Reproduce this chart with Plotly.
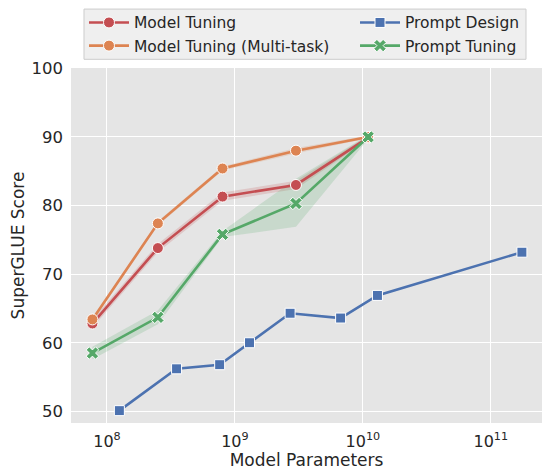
import plotly.graph_objects as go

# ---------------- data ----------------
t5_params = [7.7e7, 2.5e8, 8.0e8, 3.0e9, 1.1e10]
model_tuning = [62.8, 73.8, 81.3, 83.0, 89.9]
model_tuning_lo = [62.2, 73.2, 80.7, 82.4, 89.6]
model_tuning_hi = [63.4, 74.4, 81.9, 83.6, 90.2]

model_tuning_mt = [63.4, 77.4, 85.4, 88.0, 90.0]
model_tuning_mt_lo = [63.1, 77.1, 85.1, 87.6, 89.8]
model_tuning_mt_hi = [63.7, 77.7, 85.7, 88.4, 90.2]

prompt_tuning = [58.5, 63.7, 75.8, 80.3, 90.0]
prompt_tuning_lo = [57.6, 62.7, 75.4, 76.9, 89.7]
prompt_tuning_hi = [59.4, 64.7, 76.3, 83.9, 90.3]

gpt3_params = [1.25e8, 3.5e8, 7.6e8, 1.3e9, 2.7e9, 6.7e9, 1.3e10, 1.75e11]
prompt_design = [50.1, 56.2, 56.8, 60.0, 64.3, 63.6, 66.9, 73.2]

x_tickvals = [1e8, 1e9, 1e10, 1e11]
x_ticktext = ["10<sup>8</sup>", "10<sup>9</sup>", "10<sup>10</sup>", "10<sup>11</sup>"]
y_tickvals = [50, 60, 70, 80, 90, 100]

RED = "#C44E52"
ORANGE = "#DD8452"
BLUE = "#4C72B0"
GREEN = "#55A868"


def band_color(hexc, a):
    h = hexc.lstrip("#")
    r, g, b = int(h[0:2], 16), int(h[2:4], 16), int(h[4:6], 16)
    return f"rgba({r},{g},{b},{a})"


fig = go.Figure()


def add_band(x, lo, hi, color):
    fig.add_trace(go.Scatter(
        x=list(x) + list(x)[::-1], y=list(hi) + list(lo)[::-1],
        fill="toself", fillcolor=band_color(color, 0.2),
        line=dict(width=0), mode="lines", hoverinfo="skip",
        showlegend=False))


add_band(t5_params, model_tuning_lo, model_tuning_hi, RED)
add_band(t5_params, model_tuning_mt_lo, model_tuning_mt_hi, ORANGE)
add_band(t5_params, prompt_tuning_lo, prompt_tuning_hi, GREEN)

fig.add_trace(go.Scatter(
    x=t5_params, y=model_tuning, name="Model Tuning", mode="lines+markers",
    line=dict(color=RED, width=2.6),
    marker=dict(symbol="circle", size=11, color=RED, line=dict(color="white", width=1)),
    legend="legend"))
fig.add_trace(go.Scatter(
    x=t5_params, y=model_tuning_mt, name="Model Tuning (Multi-task)", mode="lines+markers",
    line=dict(color=ORANGE, width=2.6),
    marker=dict(symbol="circle", size=11, color=ORANGE, line=dict(color="white", width=1)),
    legend="legend"))
fig.add_trace(go.Scatter(
    x=gpt3_params, y=prompt_design, name="Prompt Design", mode="lines+markers",
    line=dict(color=BLUE, width=2.6),
    marker=dict(symbol="square", size=10, color=BLUE, line=dict(color="white", width=1)),
    legend="legend2"))
fig.add_trace(go.Scatter(
    x=t5_params, y=prompt_tuning, name="Prompt Tuning", mode="lines+markers",
    line=dict(color=GREEN, width=2.6),
    marker=dict(symbol="x", size=11, color=GREEN, line=dict(color="white", width=1)),
    legend="legend2"))

FONT = "DejaVu Sans"
legend_common = dict(
    bgcolor="rgba(0,0,0,0)", borderwidth=0,
    font=dict(family=FONT, size=15.5, color="#262626"),
    orientation="v", yanchor="top", xanchor="left", tracegroupgap=0,
    itemwidth=40)

fig.update_layout(
    width=542, height=462, autosize=False,
    margin=dict(l=63, r=8, t=60, b=47, autoexpand=False),
    paper_bgcolor="white", plot_bgcolor="#E5E5E5",
    font=dict(family=FONT, size=16, color="#262626"),
    legend=dict(x=0.0276, y=1.175, **legend_common),
    legend2=dict(x=0.603, y=1.175, **legend_common),
    xaxis=dict(
        type="log", range=[7.719, 11.40],
        tickvals=x_tickvals, ticktext=x_ticktext,
        showgrid=True, gridcolor="white", gridwidth=1.2,
        zeroline=False, showline=False, ticks="",
        tickfont=dict(size=16), automargin=False, ticklabelstandoff=7,
        title=dict(text="Model Parameters", font=dict(size=17), standoff=2)),
    yaxis=dict(
        range=[48.3, 100.05], tickvals=y_tickvals,
        showgrid=True, gridcolor="white", gridwidth=1.2,
        zeroline=False, showline=False, ticks="",
        tickfont=dict(size=16.5), automargin=False, ticklabelstandoff=7,
        title=dict(text="SuperGLUE Score", font=dict(size=17), standoff=5)),
    shapes=[dict(type="rect", xref="paper", yref="paper",
                 x0=0.0276, x1=0.966, y0=1.0245, y1=1.166,
                 line=dict(color="#CCCCCC", width=1),
                 fillcolor="rgba(235,235,235,0.8)", layer="below")],
)

fig.write_html("out.html")
